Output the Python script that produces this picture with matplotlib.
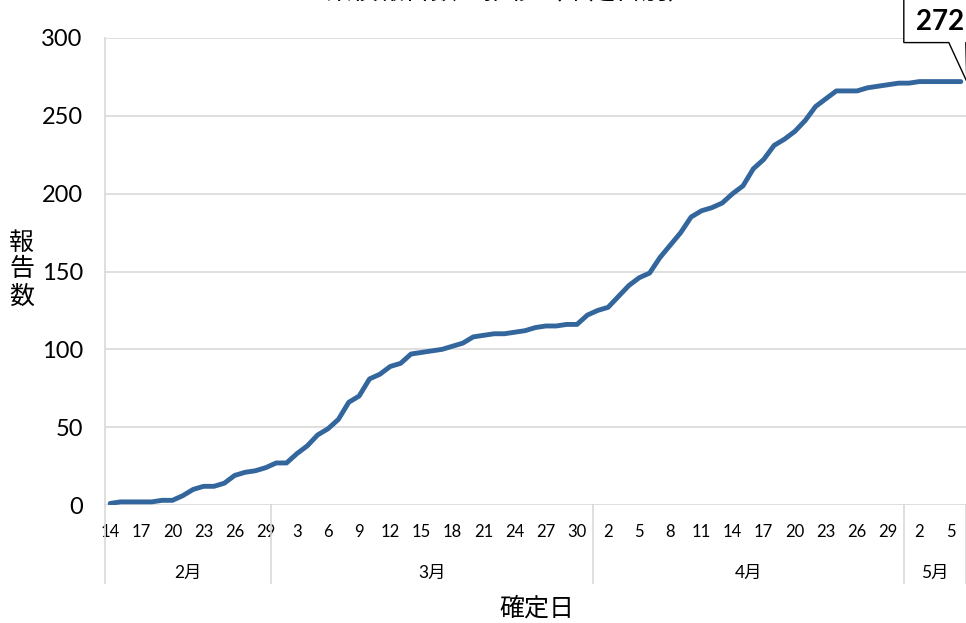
import matplotlib
matplotlib.use("Agg")
import matplotlib.pyplot as plt
import matplotlib.transforms as mtransforms
from matplotlib.patches import Polygon
import pandas as pd

plt.rcParams["font.family"] = ["Lato", "Noto Sans CJK JP", "DejaVu Sans"]

# daily cumulative counts, Feb 14 .. May 6 (2020)
dates = pd.date_range("2020-02-14", "2020-05-06", freq="D")
counts = [1, 2, 2, 2, 2, 3, 3, 6, 10, 12, 12, 14, 19, 21, 22, 24,
          27, 27, 33, 38, 45, 49, 55, 66, 70, 81, 84, 89, 91, 97, 98, 99,
          100, 102, 104, 108, 109, 110, 110, 111, 112, 114, 115, 115, 116, 116, 122,
          125, 127, 134, 141, 146, 149, 159, 167, 175, 185, 189, 191, 194, 200,
          205, 216, 222, 231, 235, 240, 247, 256, 261, 266, 266, 266, 268, 269,
          270, 271, 271, 272, 272, 272, 272, 272]
month_names = ["2月", "3月", "4月", "5月"]
title = "累積報告数の推移（確定日別）"

W, H = 966, 623
fig = plt.figure(figsize=(W / 100, H / 100), dpi=100)
ax = fig.add_axes([105 / W, (H - 505) / H, (W - 105) / W, (505 - 38) / H])

x = list(range(len(counts)))
ax.plot(x, counts, color="#33669c", lw=3.5, solid_joinstyle="round", solid_capstyle="round", zorder=3)

grid_c = "#d9d9d9"
ax.set_xlim(-0.5, len(counts) - 0.5)
ax.set_ylim(0, 300)
ax.set_yticks(range(0, 301, 50))
ax.yaxis.grid(True, color=grid_c, lw=1.2)
ax.set_axisbelow(True)
for s in ["top", "right", "bottom"]:
    ax.spines[s].set_visible(False)
ax.spines["left"].set_color(grid_c)
ax.spines["left"].set_linewidth(1.2)
ax.tick_params(axis="y", length=0, pad=16, labelsize=17)

tick_idx = x[::3]
ax.set_xticks(tick_idx)
ax.set_xticklabels([str(dates[i].day) for i in tick_idx])
ax.tick_params(axis="x", length=0, pad=14, labelsize=12)

# month groups under the axis
trans = mtransforms.blended_transform_factory(ax.transData, ax.transAxes)
months = dates.month
bounds = [-0.5]
for i in range(1, len(dates)):
    if months[i] != months[i - 1]:
        bounds.append(i - 0.5)
bounds.append(len(dates) - 0.5)
for b in bounds:
    ax.plot([b, b], [0, -0.168], transform=trans, color=grid_c, lw=1.2, clip_on=False)
for k in range(len(bounds) - 1):
    ax.text((bounds[k] + bounds[k + 1]) / 2, -0.145, month_names[k], transform=trans,
            ha="center", va="center", fontsize=12.5)

fig.text(537 / W, 1 - 608 / H, "確定日", ha="center", va="center", fontsize=18)
fig.text(22 / W, 1 - 269 / H, "報\n告\n数", ha="center", va="center", fontsize=18, linespacing=1.2)

# title (cut off at the top edge in the reference)
fig.text(510 / W, 1 + 1 / H, title, ha="center", va="baseline", fontsize=19)

# callout for the last value
tip = ax.transData.transform((x[-1], counts[-1]))
tx, ty = tip
bottom = ty + 39
top = ty + 85
left = tx - 57
right = tx + 40
verts = [(left, bottom), (tx - 12, bottom), (tx + 6, ty), (tx + 5, bottom),
         (right, bottom), (right, top), (left, top)]
callout = Polygon(verts, closed=True, facecolor="white", edgecolor="black", lw=1.0,
                  transform=mtransforms.IdentityTransform(), zorder=5)
fig.add_artist(callout)
fig.text((tx - 21) / W, (bottom + 21) / H, str(counts[-1]), ha="center", va="center",
         fontsize=20, fontweight="bold", zorder=6)

fig.savefig("out.png", dpi=100)
